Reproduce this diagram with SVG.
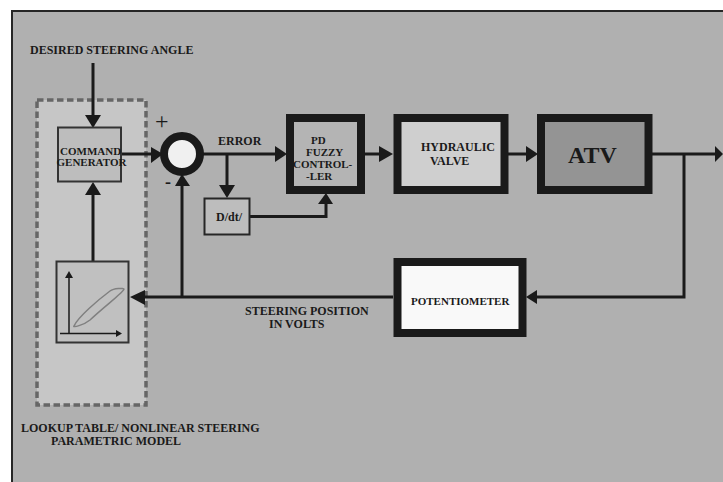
<svg xmlns="http://www.w3.org/2000/svg" width="723" height="482" viewBox="0 0 723 482">
<defs>
<style>
text{font-family:"Liberation Serif","Times New Roman",serif;font-weight:bold;fill:#1a1a1a;font-size:12px}
.s{font-size:11px}
.c{fill:none;stroke:#1a1a1a;stroke-width:3}
.h{fill:#1a1a1a}
.t{stroke:#1a1a1a;stroke-width:8}
</style>
</defs>
<rect width="723" height="482" fill="#fff"/>
<rect id="panel" x="12" y="11" width="713" height="473" fill="#b0b0b0" stroke="#262626" stroke-width="2"/>
<g id="lookup-region"><rect x="37" y="100" width="109" height="305" fill="#c6c6c6" stroke="#666" stroke-width="3.5" stroke-dasharray="6.5 3.5"/></g>
<g id="connectors">
<path class="c" d="M93 63V116"/><path class="h" d="M85 115H101L93 128Z"/>
<path class="c" d="M121 154H152"/><path class="h" d="M151 147V163L163 154Z"/>
<path class="c" d="M200 154H276"/><path class="h" d="M275 146V162L287 154Z"/>
<path class="c" d="M227 154V186"/><path class="h" d="M219 185H235L227 198Z"/>
<path class="c" d="M250 216.500H326V203"/><path class="h" d="M318 204H333L326 193Z"/>
<path class="c" d="M365 154H380"/><path class="h" d="M379 146V162L393 154Z"/>
<path class="c" d="M508 154H527"/><path class="h" d="M526 146V162L538 154Z"/>
<path class="c" d="M652 154H716"/><path class="h" d="M715 146V162L723 154Z"/>
<path class="c" d="M684 154V297H537"/><path class="h" d="M537 290V304L526 297Z"/>
<path class="c" d="M393 297H144"/><path class="h" d="M145 290V305L130 297Z"/>
<path class="c" d="M182 297V185"/>
<path class="c" d="M93 261V194"/><path class="h" d="M85 195H101L93 182Z"/>
</g>
<g id="command-generator"><rect x="58" y="127.500" width="63" height="54" fill="#bdbdbd" stroke="#333" stroke-width="2"/>
<text class="s" x="60" y="155">COMMAND</text><text class="s" x="56.500" y="166">GENERATOR</text></g>
<g id="sum"><circle cx="182" cy="154" r="18" fill="#f0f0f0" stroke="#1a1a1a" stroke-width="8"/>
<path class="h" d="M175 186H190L182 174Z"/>
<text x="155" y="129" style="font-weight:normal;font-size:24px">+</text>
<text x="165" y="188" style="font-size:18px">-</text></g>
<g id="pd-fuzzy"><rect class="t" x="290" y="118" width="71" height="72" fill="#b4b4b4"/>
<text class="s" x="311" y="144">PD</text><text class="s" x="306" y="156">FUZZY</text><text class="s" x="293" y="168">CONTROL-</text><text class="s" x="306" y="180">-LER</text></g>
<g id="ddt"><rect x="204.500" y="198.500" width="45" height="36" fill="#bdbdbd" stroke="#262626" stroke-width="2"/>
<text x="216" y="221">D/dt/</text></g>
<g id="hydraulic-valve"><rect class="t" x="397.500" y="118" width="107" height="72" fill="#cfcfcf"/>
<text x="421" y="151">HYDRAULIC</text><text x="430" y="165">VALVE</text></g>
<g id="atv"><rect class="t" x="541" y="118" width="107.500" height="72" fill="#949494"/>
<text x="568" y="163" style="font-size:24px">ATV</text></g>
<g id="potentiometer"><rect class="t" x="397.500" y="262" width="125" height="71" fill="#f9f9f9"/>
<text class="s" x="411" y="305">POTENTIOMETER</text></g>
<g id="lookup-table"><rect x="56.500" y="261.500" width="72" height="81" fill="#c0c0c0" stroke="#333" stroke-width="2"/>
<path d="M69 333.500V276" stroke="#1a1a1a" stroke-width="1.500" fill="none"/><path class="h" d="M65 278L69 271L73 278Z"/>
<path d="M60 333.500H118" stroke="#1a1a1a" stroke-width="1.500" fill="none"/><path class="h" d="M116 330L122 333.500L116 337Z"/>
<path d="M74 326C78 317 98 300 110 291C114 288 124 288 124 289C124 292 106 305 90 320C84 325 72 328 74 326Z" fill="none" stroke="#808080" stroke-width="1.500"/></g>
<g id="labels">
<text x="30" y="54">DESIRED STEERING ANGLE</text>
<text x="218" y="145">ERROR</text>
<text x="245" y="315">STEERING POSITION</text>
<text x="269" y="328">IN VOLTS</text>
<text x="21" y="432">LOOKUP TABLE/ NONLINEAR STEERING</text>
<text x="51" y="445">PARAMETRIC MODEL</text>
</g>
</svg>
